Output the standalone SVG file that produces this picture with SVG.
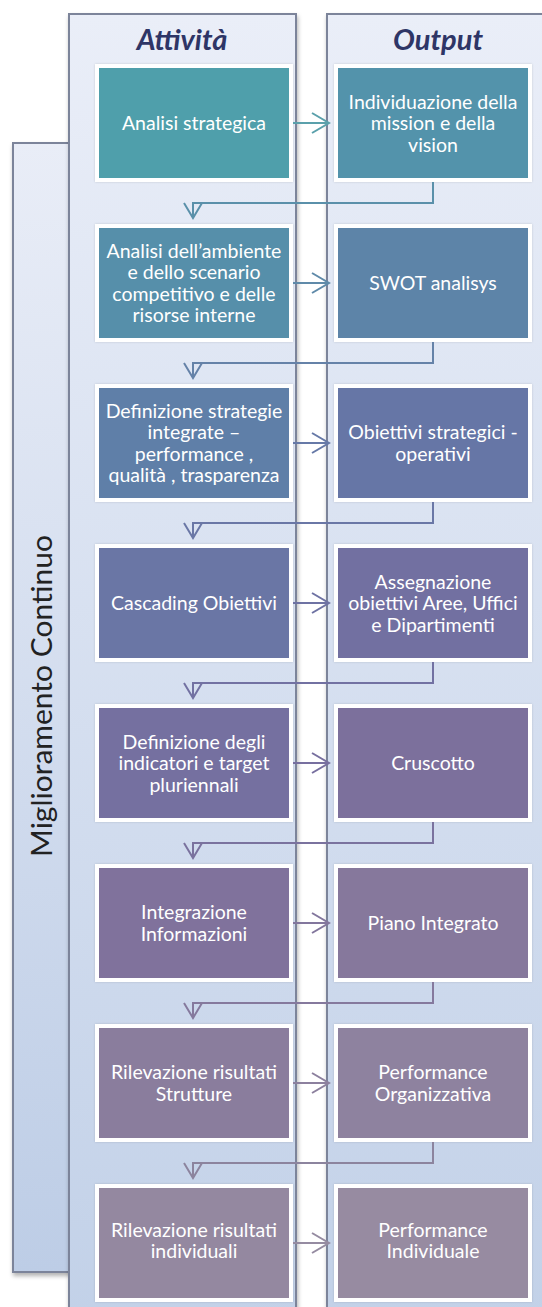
<svg xmlns="http://www.w3.org/2000/svg" width="542" height="1307" viewBox="0 0 542 1307">
<defs>
<linearGradient id="gPanel" x1="0" y1="0" x2="0" y2="1">
<stop offset="0" stop-color="#eaeef8"/>
<stop offset="1" stop-color="#c2d1e8"/>
</linearGradient>
<linearGradient id="gBar" x1="0" y1="0" x2="0" y2="1">
<stop offset="0" stop-color="#e9edf7"/>
<stop offset="1" stop-color="#bdcde6"/>
</linearGradient>
<filter id="sh" x="-20%" y="-5%" width="140%" height="110%">
<feDropShadow dx="1" dy="3" stdDeviation="2" flood-color="#000" flood-opacity="0.3"/>
</filter>
<filter id="bs" x="-10%" y="-10%" width="120%" height="120%">
<feDropShadow dx="0" dy="0" stdDeviation="1.2" flood-color="#000" flood-opacity="0.15"/>
</filter>
</defs>
<style>
.panel{stroke:#7b849a;stroke-width:2;fill:url(#gPanel)}
.bar{stroke:#7b849a;stroke-width:2;fill:url(#gBar)}
.box{stroke:#ffffff;stroke-width:4}
.t{font-family:Lato,"Liberation Sans",sans-serif;font-size:19.5px;fill:#ffffff;text-anchor:middle}
.h{font-family:Lato,"Liberation Sans",sans-serif;font-size:29px;font-weight:bold;font-style:italic;fill:#2e3566;text-anchor:middle}
.v{font-family:Lato,"Liberation Sans",sans-serif;font-size:28px;fill:#222222;text-anchor:middle}
.c{fill:none;stroke-width:2}
</style>
<rect width="542" height="1307" fill="#ffffff"/>
<g id="miglioramento-continuo">
<rect class="bar" x="13" y="143" width="57" height="1129" filter="url(#sh)"/>
<text class="v" transform="translate(52,696) rotate(-90)" textLength="322" lengthAdjust="spacingAndGlyphs">Miglioramento Continuo</text>
</g>
<g id="panel-attivita">
<rect class="panel" x="69" y="14" width="227" height="1310" filter="url(#sh)"/>
<text class="h" x="182" y="50">Attività</text>
</g>
<g id="panel-output">
<rect class="panel" x="327" y="14" width="240" height="1310" filter="url(#sh)"/>
<text class="h" x="438" y="50">Output</text>
</g>
<g id="a1"><rect class="box" x="97" y="66" width="194" height="114" fill="#4f9fab" filter="url(#bs)"/><text class="t" x="194" y="130">Analisi strategica</text></g>
<g id="o1"><rect class="box" x="336" y="66" width="194" height="114" fill="#5393ab" filter="url(#bs)"/><text class="t" x="433" y="108.5">Individuazione della</text><text class="t" x="433" y="130">mission e della</text><text class="t" x="433" y="151.5">vision</text></g>
<g id="a2"><rect class="box" x="97" y="226" width="194" height="114" fill="#578faa" filter="url(#bs)"/><text class="t" x="194" y="257.75">Analisi dell’ambiente</text><text class="t" x="194" y="279.25">e dello scenario</text><text class="t" x="194" y="300.75">competitivo e delle</text><text class="t" x="194" y="322.25">risorse interne</text></g>
<g id="o2"><rect class="box" x="336" y="226" width="194" height="114" fill="#5d84a8" filter="url(#bs)"/><text class="t" x="433" y="290">SWOT analisys</text></g>
<g id="a3"><rect class="box" x="97" y="386" width="194" height="114" fill="#5f7fa8" filter="url(#bs)"/><text class="t" x="194" y="417.75">Definizione strategie</text><text class="t" x="194" y="439.25">integrate –</text><text class="t" x="194" y="460.75">performance ,</text><text class="t" x="194" y="482.25">qualità , trasparenza</text></g>
<g id="o3"><rect class="box" x="336" y="386" width="194" height="114" fill="#6676a6" filter="url(#bs)"/><text class="t" x="433" y="439.25">Obiettivi strategici -</text><text class="t" x="433" y="460.75">operativi</text></g>
<g id="a4"><rect class="box" x="97" y="546" width="194" height="114" fill="#6a76a5" filter="url(#bs)"/><text class="t" x="194" y="610">Cascading Obiettivi</text></g>
<g id="o4"><rect class="box" x="336" y="546" width="194" height="114" fill="#7270a1" filter="url(#bs)"/><text class="t" x="433" y="588.5">Assegnazione</text><text class="t" x="433" y="610">obiettivi Aree, Uffici</text><text class="t" x="433" y="631.5">e Dipartimenti</text></g>
<g id="a5"><rect class="box" x="97" y="706" width="194" height="114" fill="#756fa0" filter="url(#bs)"/><text class="t" x="194" y="748.5">Definizione degli</text><text class="t" x="194" y="770">indicatori e target</text><text class="t" x="194" y="791.5">pluriennali</text></g>
<g id="o5"><rect class="box" x="336" y="706" width="194" height="114" fill="#7b6f9c" filter="url(#bs)"/><text class="t" x="433" y="770">Cruscotto</text></g>
<g id="a6"><rect class="box" x="97" y="866" width="194" height="114" fill="#80729c" filter="url(#bs)"/><text class="t" x="194" y="919.25">Integrazione</text><text class="t" x="194" y="940.75">Informazioni</text></g>
<g id="o6"><rect class="box" x="336" y="866" width="194" height="114" fill="#86789c" filter="url(#bs)"/><text class="t" x="433" y="930">Piano Integrato</text></g>
<g id="a7"><rect class="box" x="97" y="1026" width="194" height="114" fill="#8a7d9d" filter="url(#bs)"/><text class="t" x="194" y="1079.25">Rilevazione risultati</text><text class="t" x="194" y="1100.75">Strutture</text></g>
<g id="o7"><rect class="box" x="336" y="1026" width="194" height="114" fill="#8e829f" filter="url(#bs)"/><text class="t" x="433" y="1079.25">Performance</text><text class="t" x="433" y="1100.75">Organizzativa</text></g>
<g id="a8"><rect class="box" x="97" y="1186" width="194" height="114" fill="#9488a0" filter="url(#bs)"/><text class="t" x="194" y="1236.5">Rilevazione risultati</text><text class="t" x="194" y="1258">individuali</text></g>
<g id="o8"><rect class="box" x="336" y="1186" width="194" height="114" fill="#978ba1" filter="url(#bs)"/><text class="t" x="433" y="1236.5">Performance</text><text class="t" x="433" y="1258">Individuale</text></g>
<g id="connectors">
<path class="c" stroke="#5aa0ab" d="M293,123 H329 M312,113 L329,123 L312,133"/>
<path class="c" stroke="#5a90aa" d="M433,182 V203 H193 V217 M184,203 L193,218 L202,203"/>
<path class="c" stroke="#5f8aa9" d="M293,283 H329 M312,273 L329,283 L312,293"/>
<path class="c" stroke="#6582a8" d="M433,342 V363 H193 V377 M184,363 L193,378 L202,363"/>
<path class="c" stroke="#6679a7" d="M293,443 H329 M312,433 L329,443 L312,453"/>
<path class="c" stroke="#6a77a6" d="M433,502 V523 H193 V537 M184,523 L193,538 L202,523"/>
<path class="c" stroke="#6e72a3" d="M293,603 H329 M312,593 L329,603 L312,613"/>
<path class="c" stroke="#7271a2" d="M433,662 V683 H193 V697 M184,683 L193,698 L202,683"/>
<path class="c" stroke="#776f9f" d="M293,763 H329 M312,753 L329,763 L312,773"/>
<path class="c" stroke="#7a729e" d="M433,822 V843 H193 V857 M184,843 L193,858 L202,843"/>
<path class="c" stroke="#82769d" d="M293,923 H329 M312,913 L329,923 L312,933"/>
<path class="c" stroke="#85799d" d="M433,982 V1003 H193 V1017 M184,1003 L193,1018 L202,1003"/>
<path class="c" stroke="#8c809e" d="M293,1083 H329 M312,1073 L329,1083 L312,1093"/>
<path class="c" stroke="#8c849e" d="M433,1142 V1163 H193 V1177 M184,1163 L193,1178 L202,1163"/>
<path class="c" stroke="#958ba1" d="M293,1243 H329 M312,1233 L329,1243 L312,1253"/>
</g>
</svg>
